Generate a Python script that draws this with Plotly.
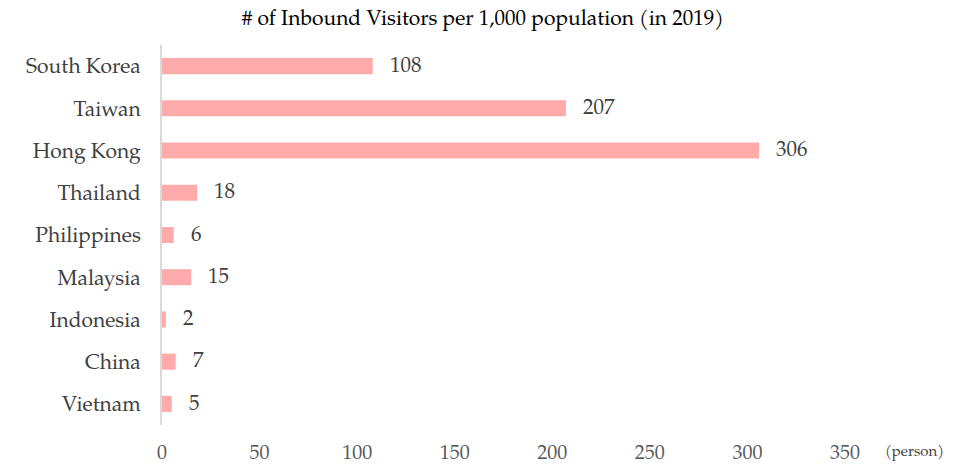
import plotly.graph_objects as go

countries = ["South Korea", "Taiwan", "Hong Kong", "Thailand", "Philippines",
             "Malaysia", "Indonesia", "China", "Vietnam"]
visitors = [108, 207, 306, 18, 6, 15, 2, 7, 5]
x_ticks = [0, 50, 100, 150, 200, 250, 300, 350]

FONT = "Palatino Linotype, Book Antiqua, Palatino, TeX Gyre Pagella, Liberation Serif, serif"

fig = go.Figure(go.Bar(
    y=countries, x=visitors, orientation="h",
    marker=dict(color="#FFABAB", line=dict(width=0)),
    hoverinfo="skip",
))

for c, v in zip(countries, visitors):
    fig.add_annotation(x=v, y=c, text=str(v), showarrow=False, xanchor="left",
                       xshift=15, yshift=-1, font=dict(family=FONT, size=21, color="#404040"))

fig.add_annotation(x=1.0, xref="paper", y=0, yref="paper", text="(person)", showarrow=False,
                   xanchor="left", yanchor="top", xshift=38, yshift=-17,
                   font=dict(family=FONT, size=15, color="#404040"))

fig.update_layout(
    width=959, height=461,
    margin=dict(l=154, r=122, t=37, b=44),
    paper_bgcolor="white", plot_bgcolor="white",
    title=dict(text="# of Inbound Visitors per 1,000 population (in 2019)",
               x=0.495, xref="container", xanchor="center",
               y=0.98, yref="container", yanchor="middle",
               font=dict(family=FONT, size=21, color="#000000")),
    bargap=0.62,
    showlegend=False,
    xaxis=dict(range=[0, 350], tickvals=x_ticks, showgrid=False, zeroline=False,
               showline=False, ticks="", ticklabelstandoff=13, automargin=False,
               tickfont=dict(family=FONT, size=20, color="#595959")),
    yaxis=dict(autorange="reversed", showgrid=False, zeroline=False,
               showline=True, linecolor="#D9D9D9", linewidth=2, ticks="",
               ticklabelstandoff=15, automargin=False,
               tickfont=dict(family=FONT, size=21, color="#404040")),
)

fig.write_html("out.html")
